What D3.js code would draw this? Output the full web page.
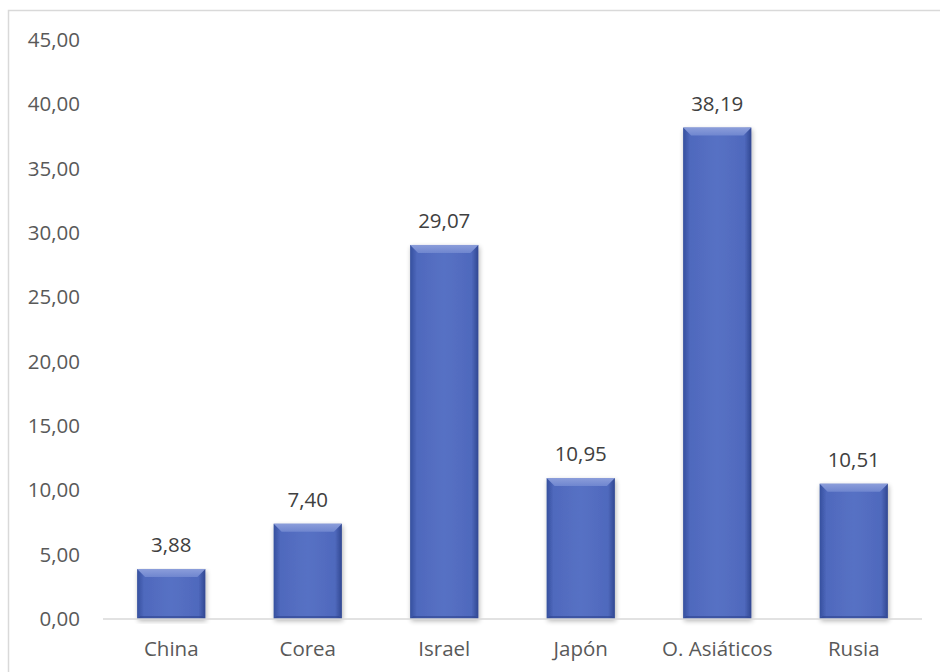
<!DOCTYPE html>
<html><head><meta charset="utf-8">
<script src="https://cdn.jsdelivr.net/npm/d3@7"></script>
<style>
html,body{margin:0;padding:0;background:#fff;}
text{font-family:"Open Sans","Noto Sans",sans-serif;}
</style></head>
<body>
<svg id="chart" width="940" height="672"></svg>
<script>
const categories = ["China","Corea","Israel","Japón","O. Asiáticos","Rusia"];
const values = [3.88, 7.40, 29.07, 10.95, 38.19, 10.51];
const yTicks = [0,5,10,15,20,25,30,35,40,45];

const svg = d3.select("#chart");
const fmt = v => d3.format(".2f")(v).replace(".", ",");
const FS = 20.5;

// outer frame
svg.append("rect").attr("x",8.5).attr("y",10.5).attr("width",940).attr("height",680)
  .attr("fill","#fff").attr("stroke","#d9d9d9").attr("stroke-width",1.5);

const x = d3.scaleBand().domain(categories).range([103, 922]).paddingInner(0.5).paddingOuter(0.25);
const y = d3.scaleLinear().domain([0,45]).range([619, 40]);

const defs = svg.append("defs");
const g1 = defs.append("linearGradient").attr("id","barH").attr("x1","0").attr("x2","1").attr("y1","0").attr("y2","0");
g1.append("stop").attr("offset","0").attr("stop-color","#354f9e");
g1.append("stop").attr("offset","0.1").attr("stop-color","#4f69bd");
g1.append("stop").attr("offset","0.5").attr("stop-color","#5771c4");
g1.append("stop").attr("offset","0.9").attr("stop-color","#4f69bd");
g1.append("stop").attr("offset","1").attr("stop-color","#304791");
const g2 = defs.append("linearGradient").attr("id","bevelTop").attr("x1","0").attr("x2","0").attr("y1","0").attr("y2","1");
g2.append("stop").attr("offset","0").attr("stop-color","#8b9dda");
g2.append("stop").attr("offset","1").attr("stop-color","#6f86cf");
const f = defs.append("filter").attr("id","shadow").attr("x","-20%").attr("y","-5%").attr("width","140%").attr("height","115%");
f.append("feGaussianBlur").attr("in","SourceAlpha").attr("stdDeviation",2.5);
f.append("feOffset").attr("dx",1).attr("dy",2).attr("result","ob");
f.append("feComponentTransfer").append("feFuncA").attr("type","linear").attr("slope",0.3);
const m = f.append("feMerge"); m.append("feMergeNode"); m.append("feMergeNode").attr("in","SourceGraphic");

// y axis labels
const yAxis = d3.axisLeft(y).tickValues(yTicks).tickFormat(fmt).tickSize(0).tickPadding(0);
const ya = svg.append("g").attr("transform","translate(80,0)").call(yAxis);
ya.select(".domain").remove();
ya.selectAll("text").attr("font-size",FS).attr("fill","#595959").attr("font-family","'Open Sans',sans-serif");

// bars
const bars = svg.append("g").selectAll("g").data(categories).join("g");
bars.each(function(c,i){
  const gx = d3.select(this);
  const x0 = x(c), w = x.bandwidth(), y0 = y(values[i]), h = y(0) - y0;
  const b = Math.min(8, h/2);
  const s = Math.min(3, h/2);
  gx.append("rect").attr("x",x0).attr("y",y0).attr("width",w).attr("height",h)
    .attr("fill","url(#barH)").attr("filter","url(#shadow)");
  // top bevel
  gx.append("path").attr("d",`M${x0},${y0}L${x0+w},${y0}L${x0+w-b},${y0+b}L${x0+b},${y0+b}Z`).attr("fill","url(#bevelTop)");
  // bottom edge
  gx.append("path").attr("d",`M${x0},${y0+h}L${x0+s},${y0+h-s}L${x0+w-s},${y0+h-s}L${x0+w},${y0+h}Z`).attr("fill","#2f4590").attr("opacity",0.6);
  gx.append("text").attr("x",x0+w/2).attr("y",y0-17).attr("text-anchor","middle")
    .attr("font-size",FS).attr("fill","#404040").text(fmt(values[i]));
});

// x axis
const xAxis = d3.axisBottom(x).tickSize(0).tickPadding(22);
const xa = svg.append("g").attr("transform","translate(0,619)").call(xAxis);
xa.select(".domain").attr("stroke","#d9d9d9").attr("stroke-width",1.5).attr("d","M103,0H922");
xa.selectAll("text").attr("font-size",FS).attr("fill","#595959").attr("font-family","'Open Sans',sans-serif");
</script>
</body></html>
